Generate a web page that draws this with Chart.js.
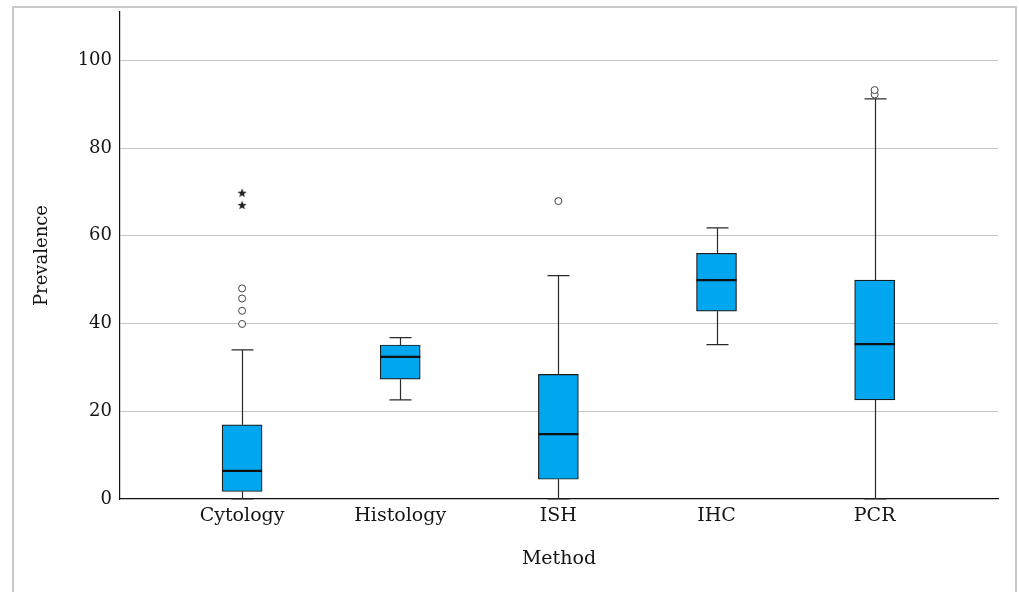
<!DOCTYPE html>
<html>
<head>
<meta charset="utf-8">
<script src="https://cdn.jsdelivr.net/npm/chart.js@4/dist/chart.umd.min.js"></script>
<style>
  html, body { margin: 0; padding: 0; background: #fff; width: 1019px; height: 592px; overflow: hidden; }
  #frame { position: absolute; left: 12px; top: 6px; width: 1005px; height: 640px; border: 2px solid #c9c9c9; border-bottom: none; box-sizing: border-box; }
  #wrap { position: absolute; left: 0; top: 0; width: 1019px; height: 592px; }
</style>
</head>
<body>
<div id="frame"></div>
<div id="wrap"><canvas id="c" width="1019" height="592"></canvas></div>
<script>
// ---- data ----
const categories   = ['Cytology', 'Histology', 'ISH', 'IHC', 'PCR'];
const whiskerLow   = [0,    22.6, 0,    35.2, 0];
const q1           = [1.7,  27.3, 4.5,  42.8, 22.6];
const median       = [6.4,  32.4, 14.8, 49.9, 35.3];
const q3           = [16.9, 35.1, 28.4, 56.0, 49.9];
const whiskerHigh  = [34.0, 36.8, 50.9, 61.8, 91.2];
const outlierCategory = [0, 0, 0, 0, 2, 4, 4];
const outlierValue    = [39.9, 42.9, 45.7, 48.0, 67.9, 92.2, 93.2];
const extremeCategory = [0, 0];
const extremeValue    = [67.0, 69.8];
const yTickValues  = [0, 20, 40, 60, 80, 100];

// ---- build ----
const pos = categories.map((_, i) => i + 1);
const boxData = pos.map((p, i) => ({ x: p, y: [q1[i], q3[i]] }));
const outlierData = outlierCategory.map((c, i) => ({ x: pos[c], y: outlierValue[i] }));
const extremeData = extremeCategory.map((c, i) => ({ x: pos[c], y: extremeValue[i] }));

// star marker
const star = document.createElement('canvas');
star.width = 10; star.height = 10;
(function () {
  const g = star.getContext('2d');
  g.fillStyle = '#222';
  g.beginPath();
  for (let k = 0; k < 10; k++) {
    const r = k % 2 === 0 ? 4.8 : 2.0;
    const a = -Math.PI / 2 + k * Math.PI / 5;
    const px = 5 + r * Math.cos(a), py = 5.4 + r * Math.sin(a);
    k === 0 ? g.moveTo(px, py) : g.lineTo(px, py);
  }
  g.closePath();
  g.fill();
})();

const BOX_W = 40, CAP_W = 22;
const boxPlugin = {
  id: 'boxParts',
  beforeDatasetsDraw(chart) {
    const { ctx, scales: { x, y } } = chart;
    ctx.save();
    ctx.strokeStyle = '#2a2a2a';
    ctx.lineWidth = 1.2;
    pos.forEach((p, i) => {
      const cx = Math.round(x.getPixelForValue(p)) + 0.5;
      const yl = y.getPixelForValue(whiskerLow[i]);
      const yh = y.getPixelForValue(whiskerHigh[i]);
      const y1 = y.getPixelForValue(q1[i]);
      const y3 = y.getPixelForValue(q3[i]);
      ctx.beginPath();
      ctx.moveTo(cx, yh); ctx.lineTo(cx, y3);
      ctx.moveTo(cx, y1); ctx.lineTo(cx, yl);
      ctx.moveTo(cx - CAP_W / 2, yh); ctx.lineTo(cx + CAP_W / 2, yh);
      ctx.moveTo(cx - CAP_W / 2, yl); ctx.lineTo(cx + CAP_W / 2, yl);
      ctx.stroke();
    });
    ctx.restore();
  },
  afterDatasetDraw(chart, args) {
    if (args.index !== 0) return;
    const { ctx, scales: { x, y } } = chart;
    ctx.save();
    ctx.strokeStyle = '#111';
    ctx.lineWidth = 2.2;
    pos.forEach((p, i) => {
      const cx = x.getPixelForValue(p);
      const ym = y.getPixelForValue(median[i]);
      ctx.beginPath();
      ctx.moveTo(cx - BOX_W / 2, ym); ctx.lineTo(cx + BOX_W / 2, ym);
      ctx.stroke();
    });
    ctx.restore();
  }
};

const FONT = "'DejaVu Serif', serif";
const TXT = '#151515';

new Chart(document.getElementById('c'), {
  type: 'bar',
  data: {
    datasets: [
      {
        type: 'bar',
        data: boxData,
        backgroundColor: '#00a7ee',
        borderColor: '#1a1a1a',
        borderWidth: 1.2,
        borderSkipped: false,
        barThickness: BOX_W,
        order: 2
      },
      {
        type: 'scatter',
        data: outlierData,
        pointStyle: 'circle',
        radius: 3.5,
        borderColor: '#444',
        borderWidth: 1,
        backgroundColor: '#fff',
        order: 1
      },
      {
        type: 'scatter',
        data: extremeData,
        pointStyle: star,
        radius: 5,
        order: 1
      }
    ]
  },
  options: {
    responsive: false,
    animation: false,
    devicePixelRatio: 1,
    layout: { padding: { left: 0, right: 21, top: 12, bottom: 0 } },
    plugins: { legend: { display: false }, tooltip: { enabled: false } },
    scales: {
      x: {
        type: 'linear',
        offset: false,
        min: 0.228,
        max: 5.78,
        afterBuildTicks(scale) { scale.ticks = pos.map(v => ({ value: v })); },
        afterFit(scale) { scale.height = 93; scale.paddingLeft = 0; scale.paddingRight = 0; },
        grid: { display: false, drawTicks: false, offset: false },
        border: { display: true, color: '#111', width: 1.2 },
        ticks: {
          padding: 6,
          color: TXT,
          font: { family: FONT, size: 19 },
          callback: (v) => categories[Math.round(v) - 1] || ''
        },
        title: {
          display: true,
          text: 'Method',
          color: TXT,
          font: { family: FONT, size: 19 },
          padding: { top: 22, bottom: 22 }
        }
      },
      y: {
        type: 'linear',
        min: 0,
        max: 111,
        afterBuildTicks(scale) { scale.ticks = yTickValues.map(v => ({ value: v })); },
        afterFit(scale) { scale.width = 120; scale.paddingTop = 0; scale.paddingBottom = 0; },
        grid: {
          drawTicks: false,
          color: (c) => (c.tick && c.tick.value === 0) ? 'rgba(0,0,0,0)' : '#c6c6c6',
          lineWidth: 1
        },
        border: { display: true, color: '#111', width: 1.2 },
        ticks: {
          padding: 8,
          color: TXT,
          font: { family: FONT, size: 18 }
        },
        title: {
          display: true,
          text: 'Prevalence',
          color: TXT,
          font: { family: FONT, size: 18 },
          padding: { top: 32, bottom: 32 }
        }
      }
    }
  },
  plugins: [boxPlugin]
});
</script>
</body>
</html>
